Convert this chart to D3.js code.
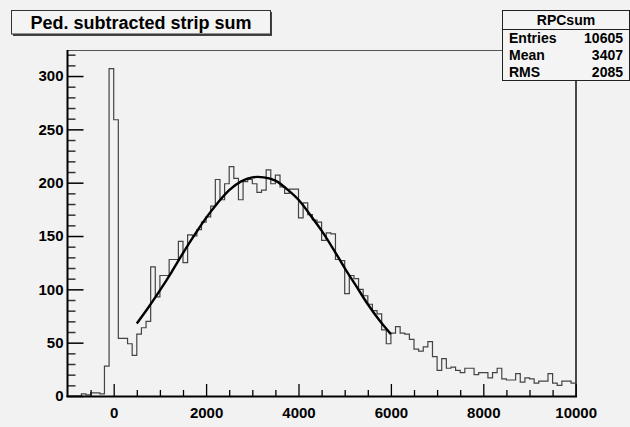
<!DOCTYPE html>
<html>
<head>
<meta charset="utf-8">
<script src="https://cdn.jsdelivr.net/npm/d3@7"></script>
<style>
  body { margin: 0; background: #f2f2f2; }
  svg { display: block; }
  text { font-family: "Liberation Sans", Arial, Helvetica, sans-serif; font-weight: bold; fill: #000; }
</style>
</head>
<body>
<svg id="canvas" width="630" height="427"></svg>
<script>
// histogram: 110 bins of width 100 from -1000 to 10000
let binStart = -1000
let binWidth = 100
let counts = [
  0, 0, 0, 2, 1, 3, 3, 2, 28, 307,
  259, 54, 54, 49, 38, 58, 64, 70, 121, 93,
  113, 113, 128, 128, 145, 125, 151, 150, 156, 163,
  168, 178, 203, 184, 199, 215, 204, 184, 201, 203,
  199, 191, 193, 212, 199, 207, 196, 190, 194, 194,
  167, 181, 170, 165, 163, 146, 153, 152, 128, 127,
  96, 113, 110, 100, 94, 86, 80, 77, 62, 49,
  59, 65, 59, 58, 53, 44, 42, 46, 51, 37,
  24, 35, 26, 27, 24, 22, 26, 26, 20, 22,
  22, 17, 22, 26, 16, 15, 15, 21, 13, 17,
  16, 12, 14, 14, 21, 12, 10, 14, 14, 12
]

// fitted curve
let fitX = [500, 750, 1000, 1250, 1500, 1750, 2000, 2250, 2500, 2750, 3000, 3250, 3500, 3750, 4000, 4250, 4500, 4750, 5000, 5250, 5500, 5750, 6000]
let fitY = [68, 83, 99, 116, 134, 151, 167, 181, 193, 201, 205, 205, 202, 194, 184, 170, 155, 138, 120, 103, 86, 71, 58]

let xTicks = [0, 2000, 4000, 6000, 8000, 10000]
let xMinor = [-500, 500, 1000, 1500, 2500, 3000, 3500, 4500, 5000, 5500, 6500, 7000, 7500, 8500, 9000, 9500]
let yTicks = [0, 50, 100, 150, 200, 250, 300]
let yMinor = [10, 20, 30, 40, 60, 70, 80, 90, 110, 120, 130, 140, 160, 170, 180, 190, 210, 220, 230, 240, 260, 270, 280, 290, 310, 320]

let title = 'Ped. subtracted strip sum'
let statsName = 'RPCsum'
let statsLabels = ['Entries', 'Mean', 'RMS']
let statsValues = ['10605', '3407', '2085']

let canvas = d3.select('#canvas')

let x = d3.scaleLinear().domain([-1000, 10000]).range([67.5, 575.7])
let y = d3.scaleLinear().domain([0, 324.4]).range([396, 50])

// frame
canvas.append('line')
  .attr('x1', 67.5).attr('x2', 502).attr('y1', 50.5).attr('y2', 50.5)
  .attr('stroke', '#555').attr('stroke-width', 1)
canvas.append('line')
  .attr('x1', 576).attr('x2', 576).attr('y1', 50).attr('y2', 396)
  .attr('stroke', '#111').attr('stroke-width', 1.5)

// histogram outline
let pts = counts.map((c, i) => [binStart + i * binWidth, c])
pts.push([binStart + counts.length * binWidth, counts[counts.length - 1]])
let histLine = d3.line()
  .x(d => x(d[0]))
  .y(d => y(d[1]))
  .curve(d3.curveStepAfter)
canvas.append('path')
  .attr('d', histLine(pts))
  .attr('fill', 'none')
  .attr('stroke', '#444')
  .attr('stroke-width', 1.2)

// fit
let fitLine = d3.line()
  .x((d, i) => x(fitX[i]))
  .y(d => y(d))
  .curve(d3.curveCatmullRom)
canvas.append('path')
  .attr('d', fitLine(fitY))
  .attr('fill', 'none')
  .attr('stroke', '#000')
  .attr('stroke-width', 2.4)

// y axis
let yAxis = canvas.append('g').attr('transform', 'translate(67.5,0)')
yAxis.call(d3.axisLeft(y).tickValues(yTicks).tickSize(-16).tickPadding(4).tickFormat(d3.format('d')))
yAxis.select('.domain').remove()
yAxis.selectAll('text').style('font-size', '15px').style('font-family', null)
yAxis.selectAll('line').attr('stroke', '#000').attr('stroke-width', 1.5)
let yAxisMinor = canvas.append('g').attr('transform', 'translate(67.5,0)')
yAxisMinor.call(d3.axisLeft(y).tickValues(yMinor).tickSize(-8).tickFormat(''))
yAxisMinor.select('.domain').remove()
yAxisMinor.selectAll('line').attr('stroke', '#333').attr('stroke-width', 1.5)

// x axis
let xAxis = canvas.append('g').attr('transform', 'translate(0,396)')
xAxis.call(d3.axisBottom(x).tickValues(xTicks).tickSize(-12).tickPadding(11).tickFormat(d3.format('d')))
xAxis.select('.domain').remove()
xAxis.selectAll('text').style('font-size', '15px').style('font-family', null)
xAxis.selectAll('line').attr('stroke', '#000').attr('stroke-width', 1.3)
let xAxisMinor = canvas.append('g').attr('transform', 'translate(0,396)')
xAxisMinor.call(d3.axisBottom(x).tickValues(xMinor).tickSize(-6).tickFormat(''))
xAxisMinor.select('.domain').remove()
xAxisMinor.selectAll('line').attr('stroke', '#000').attr('stroke-width', 1.3)

// axis lines
canvas.append('line')
  .attr('x1', 67.5).attr('x2', 67.5).attr('y1', 50).attr('y2', 397)
  .attr('stroke', '#000').attr('stroke-width', 2)
canvas.append('line')
  .attr('x1', 66.5).attr('x2', 577).attr('y1', 396.5).attr('y2', 396.5)
  .attr('stroke', '#000').attr('stroke-width', 2)

// title box
canvas.append('rect')
  .attr('x', 13).attr('y', 12).attr('width', 259).attr('height', 24)
  .attr('fill', '#444')
canvas.append('rect')
  .attr('x', 11.5).attr('y', 10.5).attr('width', 259).attr('height', 23.5)
  .attr('fill', '#f4f4f4').attr('stroke', '#333').attr('stroke-width', 1)
canvas.append('text')
  .attr('x', 141).attr('y', 29)
  .attr('text-anchor', 'middle')
  .style('font-size', '18px')
  .text(title)

// stats box
canvas.append('rect')
  .attr('x', 502.5).attr('y', 10.5).attr('width', 127).attr('height', 70)
  .attr('fill', '#f4f4f4').attr('stroke', '#222').attr('stroke-width', 1)
canvas.append('line')
  .attr('x1', 502.5).attr('x2', 629.5).attr('y1', 29.5).attr('y2', 29.5)
  .attr('stroke', '#222').attr('stroke-width', 1)
canvas.append('text')
  .attr('x', 566).attr('y', 25)
  .attr('text-anchor', 'middle')
  .style('font-size', '14px')
  .text(statsName)
statsLabels.forEach((lab, i) => {
  canvas.append('text')
    .attr('x', 509).attr('y', 43 + i * 17)
    .style('font-size', '14px')
    .text(lab)
  canvas.append('text')
    .attr('x', 623).attr('y', 43 + i * 17)
    .attr('text-anchor', 'end')
    .style('font-size', '14px')
    .text(statsValues[i])
})
</script>
</body>
</html>
